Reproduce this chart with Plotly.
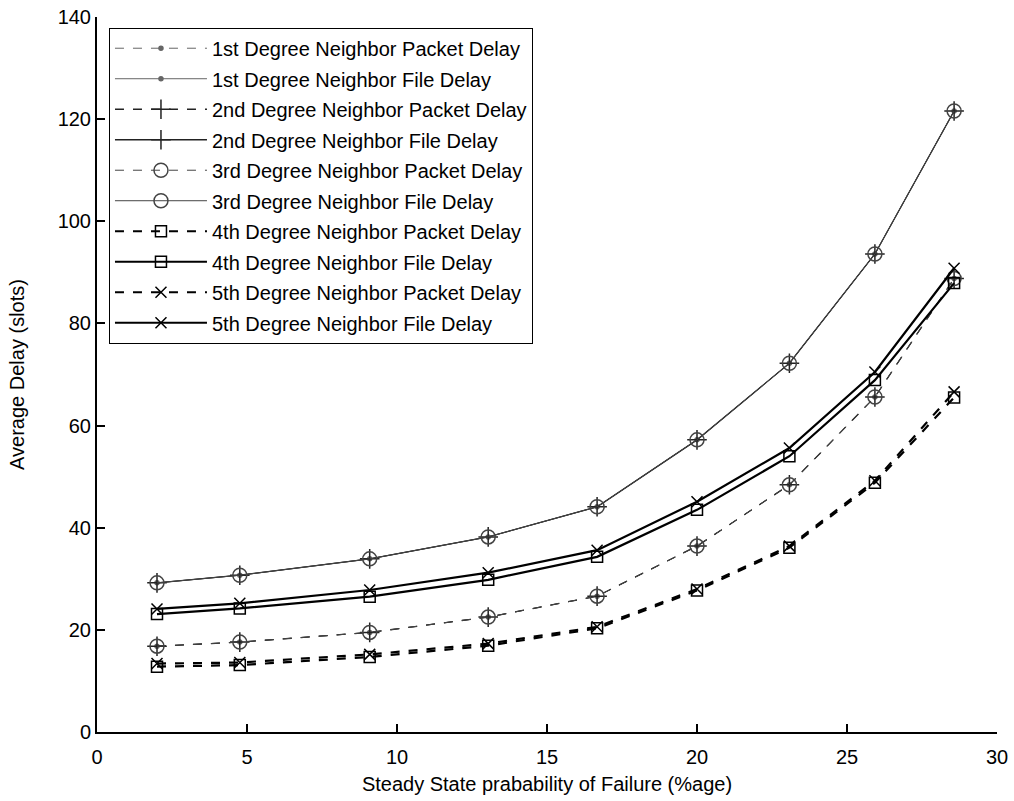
import plotly.graph_objects as go

# Steady state probability of failure (%)
x_fail = [2.0, 4.76, 9.09, 13.04, 16.67, 20.0, 23.08, 25.93, 28.57]

# Average delay (slots) per series
d1_packet = [16.8, 17.6, 19.5, 22.5, 26.6, 36.4, 48.4, 65.6, 88.8]
d1_file = [29.2, 30.7, 33.9, 38.2, 44.1, 57.2, 72.2, 93.6, 121.6]
d2_packet = [16.8, 17.6, 19.5, 22.5, 26.6, 36.4, 48.4, 65.6, 88.8]
d2_file = [29.2, 30.7, 33.9, 38.2, 44.1, 57.2, 72.2, 93.6, 121.6]
d3_packet = [16.8, 17.6, 19.5, 22.5, 26.6, 36.4, 48.4, 65.6, 88.8]
d3_file = [29.2, 30.7, 33.9, 38.2, 44.1, 57.2, 72.2, 93.6, 121.6]
d4_packet = [12.8, 13.1, 14.7, 16.9, 20.3, 27.7, 36.1, 48.8, 65.5]
d4_file = [23.1, 24.2, 26.5, 29.8, 34.3, 43.5, 54.0, 68.9, 87.9]
d5_packet = [13.4, 13.6, 15.2, 17.3, 20.6, 28.0, 36.4, 49.2, 66.6]
d5_file = [24.1, 25.2, 27.8, 31.2, 35.6, 45.1, 55.6, 70.5, 90.8]

names = [
    "1st Degree Neighbor Packet Delay",
    "1st Degree Neighbor File Delay",
    "2nd Degree Neighbor Packet Delay",
    "2nd Degree Neighbor File Delay",
    "3rd Degree Neighbor Packet Delay",
    "3rd Degree Neighbor File Delay",
    "4th Degree Neighbor Packet Delay",
    "4th Degree Neighbor File Delay",
    "5th Degree Neighbor Packet Delay",
    "5th Degree Neighbor File Delay",
]
series = [d1_packet, d1_file, d2_packet, d2_file, d3_packet,
          d3_file, d4_packet, d4_file, d5_packet, d5_file]

styles = [
    dict(color="#666666", width=1, dash="dash", symbol="circle", size=4),
    dict(color="#666666", width=1, dash="solid", symbol="circle", size=4),
    dict(color="#222222", width=1.3, dash="dash", symbol="cross-thin-open", size=14),
    dict(color="#222222", width=1.3, dash="solid", symbol="cross-thin-open", size=14),
    dict(color="#444444", width=1, dash="dash", symbol="circle-open", size=14),
    dict(color="#444444", width=1, dash="solid", symbol="circle-open", size=14),
    dict(color="#000000", width=2.2, dash="dash", symbol="square-open", size=11),
    dict(color="#000000", width=2.2, dash="solid", symbol="square-open", size=11),
    dict(color="#000000", width=2.2, dash="dash", symbol="x-thin-open", size=11),
    dict(color="#000000", width=2.2, dash="solid", symbol="x-thin-open", size=11),
]

fig = go.Figure()
for i, (nm, ys, st) in enumerate(zip(names, series, styles)):
    fig.add_trace(go.Scatter(
        x=x_fail, y=ys, name=nm, mode="lines+markers",
        legendgroup=f"g{i}",
        line=dict(color=st["color"], width=st["width"], dash=st["dash"]),
        marker=dict(symbol=st["symbol"], size=st["size"], color=st["color"],
                    line=dict(color=st["color"], width=1.5)),
    ))

font = "Liberation Sans, Arial, Helvetica, sans-serif"
fig.update_layout(
    width=1014, height=801,
    margin=dict(l=97, r=17, t=17, b=69),
    paper_bgcolor="white", plot_bgcolor="white",
    font=dict(family=font, size=20, color="black"),
    showlegend=True,
    legend=dict(
        x=0.0133, y=0.985, xanchor="left", yanchor="top",
        bgcolor="white", bordercolor="black", borderwidth=1,
        font=dict(size=20, family=font, color="black"),
        traceorder="grouped", tracegroupgap=1.5, itemwidth=92,
    ),
    xaxis=dict(
        range=[0, 30], tickvals=[0, 5, 10, 15, 20, 25, 30],
        ticks="inside", ticklen=8, tickwidth=1.5, tickcolor="black",
        showline=True, linecolor="black", linewidth=2, mirror=False,
        showgrid=False, zeroline=False, ticklabelstandoff=6, automargin=False,
        title=dict(text="Steady State prabability of Failure (%age)",
                   font=dict(size=20), standoff=10),
        tickfont=dict(size=20),
    ),
    yaxis=dict(
        range=[0, 140], tickvals=[0, 20, 40, 60, 80, 100, 120, 140],
        ticks="inside", ticklen=8, tickwidth=1.5, tickcolor="black",
        showline=True, linecolor="black", linewidth=2, mirror=False,
        showgrid=False, zeroline=False, automargin=False,
        title=dict(text="Average Delay (slots)", font=dict(size=20), standoff=28),
        tickfont=dict(size=20),
    ),
)

fig.write_html("out.html")
